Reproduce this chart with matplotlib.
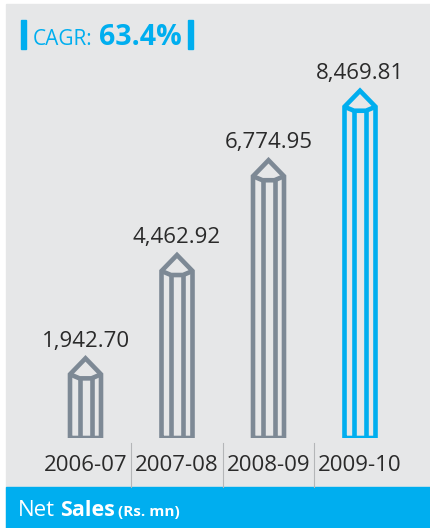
#!/usr/bin/env python3
# net_sales.py

import matplotlib

matplotlib.use("Agg")
import matplotlib.pyplot as plt
from matplotlib.patches import Rectangle
from matplotlib.transforms import blended_transform_factory

years = ["2006-07", "2007-08", "2008-09", "2009-10"]
net_sales = [1942.70, 4462.92, 6774.95, 8469.81]
labels = ["1,942.70", "4,462.92", "6,774.95", "8,469.81"]
cagr = "63.4%"

BG = "#e6e7e8"
BLUE = "#00aeef"
GREY = "#7d8995"
INK = "#2a2a2a"

W, H = 430, 528
DPI = 100
FONT = ["Open Sans", "DejaVu Sans"]


def fx(px):
    return px / W


def fy(py):
    return 1 - py / H


def pencil(ax, c, v, color):
    # body width and tip size are in pixels, turned into data units
    sx = 91.5  # px per category
    sy = ax.bbox.height / (ax.get_ylim()[1] - ax.get_ylim()[0])
    w = 15.5 / sx
    i = 6.0 / sx
    t = 16.0 / sy
    d = 4.0 / sy
    lw = 4.6 * 72 / DPI
    kw = dict(color=color, lw=lw, solid_joinstyle="miter", solid_capstyle="butt")
    s = v - t
    ax.plot([c - w, c - w, c, c + w, c + w, c - w],
            [0, s, v, s, 0, 0], **kw)
    ax.plot([c - w, c - i, c + i, c + w], [s, s - d, s - d, s], **kw)
    ax.plot([c - i, c - i], [0, s - d], **kw)
    ax.plot([c + i, c + i], [0, s - d], **kw)


def main():
    plt.rcParams["font.family"] = FONT
    fig = plt.figure(figsize=(W / DPI, H / DPI), dpi=DPI)
    fig.patch.set_facecolor("white")

    # panel background and footer band
    fig.patches.append(Rectangle((fx(6), fy(H)), fx(W - 6), fy(4) - fy(H),
                                 transform=fig.transFigure, color=BG, zorder=-2))
    fig.patches.append(Rectangle((fx(6), 0), fx(W - 6), fy(487),
                                 transform=fig.transFigure, color=BLUE, zorder=-1))

    ax = fig.add_axes([fx(6), fy(438), fx(W - 6), fy(60) - fy(438)])
    ax.set_facecolor("none")
    ax.set_xlim((6 - 85.5) / 91.5, (W - 85.5) / 91.5)
    ax.set_ylim(0, (438 - 60) / 0.041)
    ax.axis("off")

    tr = blended_transform_factory(ax.transData, fig.transFigure)
    for k, v in enumerate(net_sales):
        color = BLUE if k == len(net_sales) - 1 else GREY
        pencil(ax, k, v, color)
        ax.annotate(labels[k], (k, v), xytext=(0, 8.5), textcoords="offset points",
                    ha="center", va="baseline", fontsize=16, color=INK)
        ax.text(k, fy(471), years[k], ha="center", va="baseline", fontsize=16,
                color=INK, transform=tr)

    # thin dividers between the year labels
    for k in range(len(years) - 1):
        ax.plot([k + 0.5, k + 0.5], [fy(443), fy(487)], color="#b4b6b8", lw=0.8,
                transform=tr, clip_on=False)

    # CAGR tag
    for x0 in (21, 188):
        fig.patches.append(Rectangle((fx(x0), fy(49)), fx(5), fy(20) - fy(49),
                                     transform=fig.transFigure, color=BLUE, zorder=2))
    fig.text(fx(33), fy(45), "CAGR:", color=BLUE, fontsize=15, va="baseline")
    fig.text(fx(99), fy(45), cagr, color=BLUE, fontsize=20.5, fontweight="bold",
             va="baseline")

    # footer caption
    fig.text(fx(18), fy(516), "Net", color="white", fontsize=16, va="baseline")
    fig.text(fx(60), fy(516), "Sales", color="white", fontsize=15.5,
             fontweight="bold", va="baseline")
    fig.text(fx(118), fy(516), "(Rs. mn)", color="white", fontsize=11,
             fontweight="bold", va="baseline")

    fig.savefig("out.png", dpi=DPI)


if __name__ == "__main__":
    main()
